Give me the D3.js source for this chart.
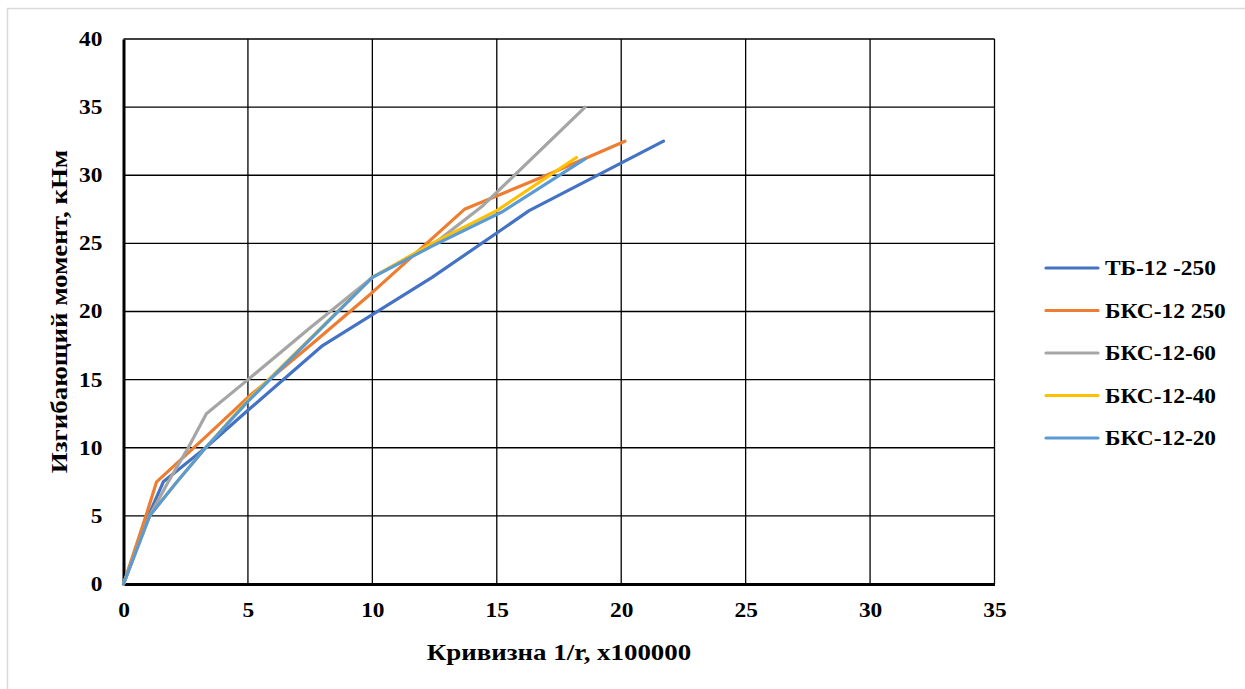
<!DOCTYPE html>
<html><head><meta charset="utf-8">
<script src="https://cdn.jsdelivr.net/npm/d3@7"></script>
<style>body{margin:0;background:#fff}svg{display:block}</style>
</head><body>
<svg id="c" width="1245" height="689"></svg>
<script>
const seriesNames = ["ТБ-12 -250","БКС-12 250","БКС-12-60","БКС-12-40","БКС-12-20"];
const seriesColors = ["#4472C4","#ED7D31","#A5A5A5","#FFC000","#5B9BD5"];
const tb12_250 = [[0,0],[1.0,5],[1.6,7.5],[3.3,10],[5,12.75],[8.0,17.5],[12.4,22.5],[16.3,27.4],[21.7,32.5]];
const bks12_250 = [[0,0],[0.9,5],[1.33,7.5],[3.3,10.8],[5,13.7],[7.5,17.5],[10,21.4],[13.7,27.5],[17,30],[20.15,32.5]];
const bks12_60 = [[0,0],[1.05,5],[1.8,7.5],[2.6,10],[3.33,12.5],[5,15],[7.5,18.8],[10,22.5],[12.5,25],[14.4,27.7],[18.55,35]];
const bks12_40 = [[0,0],[1.05,5],[2.1,7.4],[3.3,10],[5,13.5],[10,22.5],[12.4,25],[15,27.4],[18.2,31.3]];
const bks12_20 = [[0,0],[1.05,5],[2.1,7.4],[3.3,10],[5,13.4],[10,22.5],[12.4,24.8],[15.2,27.3],[18.55,31.2]];
const seriesData = [tb12_250,bks12_250,bks12_60,bks12_40,bks12_20];
const xTicks = [0,5,10,15,20,25,30,35];
const yTicks = [0,5,10,15,20,25,30,35,40];
const xTitle = "Кривизна 1/r, x100000";
const yTitle = "Изгибающий момент, кНм";

const svg = d3.select("#c");
const font = "'Liberation Serif','Times New Roman',serif";
const SX = 1.17; // horizontal text stretch
svg.append("rect").attr("x",7.5).attr("y",8.5).attr("width",1260).attr("height",700)
  .attr("fill","#fff").attr("stroke","#d9d9d9").attr("stroke-width",1.5);

const L=123.5,R=994.5,T=39,B=584;
const x = d3.scaleLinear().domain([0,35]).range([L,R]);
const y = d3.scaleLinear().domain([0,40]).range([B,T]);

const g = svg.append("g");
g.selectAll(".gx").data(xTicks.slice(1)).join("line")
  .attr("x1",d=>x(d)).attr("x2",d=>x(d)).attr("y1",B).attr("y2",T)
  .attr("stroke","#000").attr("stroke-width",1.3);
g.selectAll(".gy").data(yTicks.slice(1)).join("line")
  .attr("y1",d=>y(d)).attr("y2",d=>y(d)).attr("x1",L).attr("x2",R)
  .attr("stroke","#000").attr("stroke-width",1.3);

const xa = svg.append("g").attr("transform",`translate(0,${B})`)
  .call(d3.axisBottom(x).tickValues(xTicks).tickSize(0).tickPadding(24));
const ya = svg.append("g").attr("transform",`translate(${L},0)`)
  .call(d3.axisLeft(y).tickValues(yTicks).tickSize(0).tickPadding(21));
[xa,ya].forEach(a=>{
  a.select(".domain").attr("stroke","#000").attr("stroke-width",3);
  a.selectAll("text").attr("font-family",font).attr("font-weight","bold")
   .attr("font-size",20).attr("fill","#000").attr("transform",`scale(${SX},1)`);
});
xa.selectAll("text").attr("dy","0.45em");
ya.selectAll("text").attr("x",-21/SX);

const line = d3.line().x(d=>x(d[0])).y(d=>y(d[1]));
svg.append("g").selectAll("path").data(seriesData).join("path")
  .attr("d",line).attr("fill","none")
  .attr("stroke",(d,i)=>seriesColors[i]).attr("stroke-width",3.2)
  .attr("stroke-linejoin","round").attr("stroke-linecap","round");

svg.append("g").attr("transform",`translate(${(L+R)/2},660) scale(${SX},1)`)
  .append("text").attr("text-anchor","middle")
  .attr("font-family",font).attr("font-weight","bold").attr("font-size",23).text(xTitle);
svg.append("g").attr("transform",`translate(67,${(T+B)/2}) rotate(-90) scale(${SX},1)`)
  .append("text").attr("text-anchor","middle")
  .attr("font-family",font).attr("font-weight","bold").attr("font-size",23).text(yTitle);

const lg = svg.append("g").selectAll("g").data(seriesNames).join("g")
  .attr("transform",(d,i)=>`translate(1046,${268+i*42.5})`);
lg.append("line").attr("x1",0).attr("x2",52).attr("y1",0).attr("y2",0)
  .attr("stroke",(d,i)=>seriesColors[i]).attr("stroke-width",3.2).attr("stroke-linecap","round");
lg.append("g").attr("transform",`translate(59,7) scale(${SX},1)`)
  .append("text").attr("font-family",font)
  .attr("font-weight","bold").attr("font-size",20).text(d=>d);
</script>
</body></html>
